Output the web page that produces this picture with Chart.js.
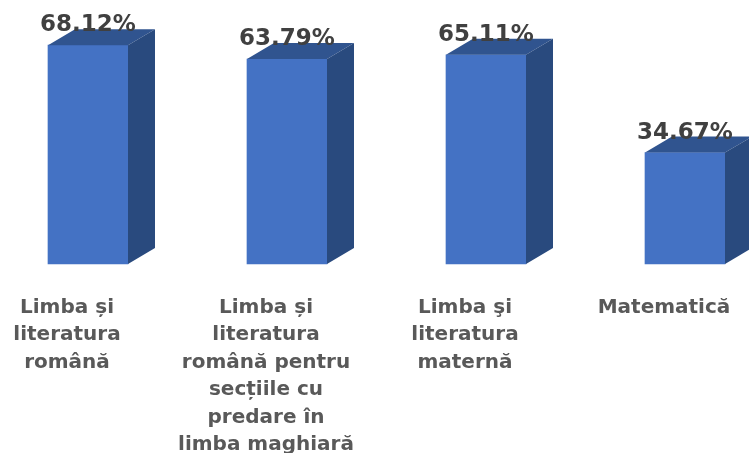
<!DOCTYPE html>
<html>
<head>
<meta charset="utf-8">
<script src="https://cdn.jsdelivr.net/npm/chart.js@4/dist/chart.umd.min.js"></script>
<style>
html,body{margin:0;padding:0;background:#fff;}
#wrap{width:749px;height:453px;position:relative;}
</style>
</head>
<body>
<div id="wrap"><canvas id="c" width="749" height="453"></canvas></div>
<script>
const categories = [
  ["Limba și", "literatura", "română"],
  ["Limba și", "literatura", "română pentru", "secțiile cu", "predare în", "limba maghiară"],
  ["Limba şi", "literatura", "maternă"],
  ["Matematică"]
];
const values = [68.12, 63.79, 65.11, 34.67];
const yMin = 0;
const yMax = 80;

const DX = 27, DY = 16;
const frontColor = '#4472c4';
const topColor = '#30548f';
const sideColor = '#294a7e';

const box3d = {
  id: 'box3d',
  afterDatasetsDraw(chart) {
    const ctx = chart.ctx;
    const meta = chart.getDatasetMeta(0);
    ctx.save();
    meta.data.forEach((bar, i) => {
      const p = bar.getProps(['x', 'y', 'base', 'width'], true);
      const l = p.x - p.width / 2, r = p.x + p.width / 2, t = p.y, b = p.base;
      ctx.fillStyle = topColor;
      ctx.beginPath();
      ctx.moveTo(l, t); ctx.lineTo(l + DX, t - DY); ctx.lineTo(r + DX, t - DY); ctx.lineTo(r, t);
      ctx.closePath(); ctx.fill();
      ctx.fillStyle = sideColor;
      ctx.beginPath();
      ctx.moveTo(r, t); ctx.lineTo(r + DX, t - DY); ctx.lineTo(r + DX, b - DY); ctx.lineTo(r, b);
      ctx.closePath(); ctx.fill();
      ctx.fillStyle = '#404040';
      ctx.font = 'bold 23px "DejaVu Sans"';
      ctx.textAlign = 'center';
      ctx.textBaseline = 'alphabetic';
      ctx.fillText(values[i].toFixed(2) + '%', p.x, t - 14);
    });
    ctx.restore();
  }
};

new Chart(document.getElementById('c'), {
  type: 'bar',
  data: {
    labels: categories,
    datasets: [{
      data: values,
      backgroundColor: frontColor,
      borderWidth: 0,
      barThickness: 80,
      clip: false
    }]
  },
  options: {
    responsive: false,
    animation: false,
    events: [],
    layout: { padding: { left: 88, right: 64, top: 7, bottom: 0 } },
    plugins: { legend: { display: false }, tooltip: { enabled: false } },
    scales: {
      x: {
        offset: false,
        grid: { display: false, drawTicks: false },
        border: { display: false },
        afterFit: (s) => { s.height = 189; s.paddingLeft = 0; s.paddingRight = 0; },
        ticks: {
          autoSkip: false,
          maxRotation: 0,
          minRotation: 0,
          padding: 30,
          labelOffset: -21,
          color: '#595959',
          font: { family: 'DejaVu Sans', size: 20, weight: 'bold', lineHeight: 1.375 }
        }
      },
      y: {
        display: false,
        min: yMin,
        max: yMax
      }
    }
  },
  plugins: [box3d]
});
</script>
</body>
</html>
